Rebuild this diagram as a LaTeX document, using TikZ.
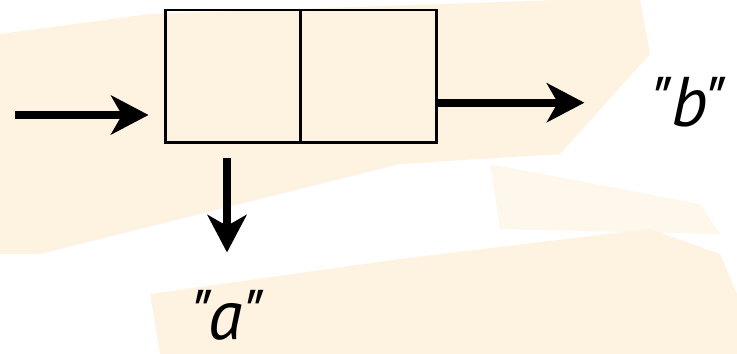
\documentclass[tikz,border=0pt]{standalone}
\usepackage{fontspec}
\setmainfont{PT Sans}[Ligatures=TeXOff]
\usepackage{tikz}
\usetikzlibrary{arrows.meta,positioning}
\definecolor{bandOrange}{RGB}{254,242,224}

\begin{document}
\begin{tikzpicture}[x=0.02cm,y=0.02cm,
    cell/.style={draw, line width=1.7pt, minimum width=2.72cm, minimum height=2.66cm, inner sep=0pt},
    flow/.style={line width=4.5pt, -{Stealth[length=0.75cm, width=0.78cm, inset=0.22cm]}},
    quote/.style={font=\fontsize{40}{46}\selectfont\itshape, inner sep=0pt}]
    \useasboundingbox (0,0) rectangle (737,354);
    % faint background bands
    \fill[bandOrange] (0,320) -- (150,340) -- (560,354) -- (640,354) -- (650,300) -- (560,200) -- (400,190) -- (160,130) -- (40,100) -- (0,100) -- cycle;
    \fill[bandOrange!60!white] (490,190) -- (700,150) -- (720,120) -- (500,125) -- cycle;
    \fill[bandOrange] (150,60) -- (400,95) -- (650,125) -- (720,100) -- (737,60) -- (737,0) -- (160,0) -- cycle;

    \node[cell] (cellL) at (233,277.5) {};
    \node[cell, right=-1.7pt of cellL] (cellR) {};
    \node[quote, anchor=base] (lblB) at (688,227) {"b"};
    \node[quote, anchor=base] (lblA) at (227,14) {"a"};
    \coordinate (inStart) at (15,239);

    \draw[flow, shorten >=0.3cm] (inStart) -- (inStart -| cellL.west);
    \draw[flow, shorten >=1.32cm] (cellR.east |- lblB.west) -- (lblB.west);
    \draw[flow, shorten <=0.28cm, shorten >=0.76cm] (lblA |- cellL.south) -- (lblA.north);
\end{tikzpicture}
\end{document}
